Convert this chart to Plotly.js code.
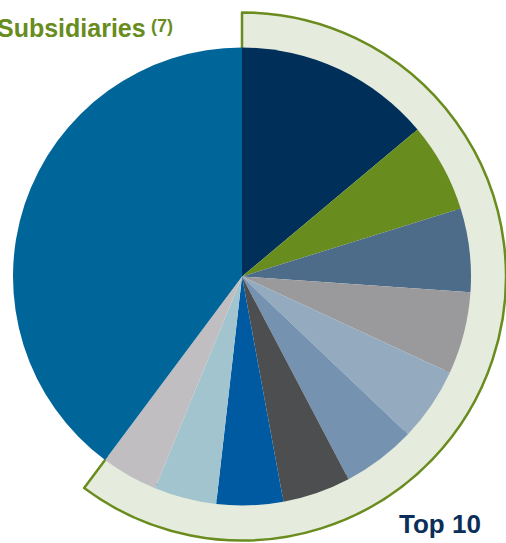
<!DOCTYPE html>
<html>
<head>
<meta charset="utf-8">
<script src="https://cdn.plot.ly/plotly-3.0.1.min.js"></script>
<style>
  html, body { margin: 0; padding: 0; width: 506px; height: 543px; overflow: hidden; background: #fff; }
  #chart { position: absolute; left: -80px; top: 0; width: 600px; height: 543px; }
</style>
</head>
<body>
<div id="chart"></div>
<script>
// Data (share of total, %), clockwise from 12 o'clock
const categories = ['Top 10 #1', 'Top 10 #2', 'Top 10 #3', 'Top 10 #4', 'Top 10 #5',
                    'Top 10 #6', 'Top 10 #7', 'Top 10 #8', 'Top 10 #9', 'Top 10 #10', 'Subsidiaries'];
const values = [13.9, 6.3, 5.9, 5.8, 5.2, 5.2, 4.8, 4.7, 4.4, 4.0, 39.8];
const sliceColors = ['#00305a', '#688c1e', '#4d6c89', '#9a9a9c', '#93aabf', '#7592b1',
                     '#4d4e50', '#005aa2', '#a2c4cf', '#c0bec0', '#006699'];
const groupLabels = ['Top 10', 'Subsidiaries'];
const subsLabel = 'Subsidiaries';
const subsNote = '(7)';
const topLabel = 'Top 10';

const W = 600, H = 543, OFF = 80;
const cx = 242 + OFF, cyTop = 276.5;
const rPie = 229, rRing = 264, rRingIn = 225;

const topSum = values.slice(0, 10).reduce((a, b) => a + b, 0);
const subSum = values[10];

function dom(r) {
  const cyB = H - cyTop;
  return { x: [(cx - r) / W, (cx + r) / W], y: [(cyB - r) / H, (cyB + r) / H] };
}

const ring = {
  type: 'pie',
  labels: groupLabels,
  values: [topSum, subSum],
  sort: false,
  direction: 'clockwise',
  rotation: 0,
  hole: rRingIn / rRing,
  domain: dom(rRing),
  textinfo: 'none',
  hoverinfo: 'skip',
  showlegend: false,
  marker: {
    colors: ['#e6ecdd', 'rgba(0,0,0,0)'],
    line: { color: ['#6a8c1e', 'rgba(0,0,0,0)'], width: [2.5, 0] }
  }
};

const pie = {
  type: 'pie',
  labels: categories,
  values: values,
  sort: false,
  direction: 'clockwise',
  rotation: 0,
  domain: dom(rPie),
  textinfo: 'none',
  hoverinfo: 'skip',
  showlegend: false,
  marker: { colors: sliceColors, line: { width: 0 } }
};

const FONT = 'Liberation Sans, Arial, sans-serif';
const layout = {
  width: W, height: H,
  margin: { l: 0, r: 0, t: 0, b: 0 },
  paper_bgcolor: '#ffffff',
  showlegend: false,
  annotations: [
    {
      text: '<b>' + subsLabel + '</b>', xref: 'paper', yref: 'paper',
      x: (148 + OFF) / W, y: 1 - 28 / H, xanchor: 'right', yanchor: 'middle',
      showarrow: false,
      font: { family: FONT, size: 25, color: '#688c1e' }
    },
    {
      text: '<b>' + subsNote + '</b>', xref: 'paper', yref: 'paper',
      x: (149 + OFF) / W, y: 1 - 26 / H, xanchor: 'left', yanchor: 'middle',
      showarrow: false,
      font: { family: FONT, size: 18, color: '#688c1e' }
    },
    {
      text: '<b>' + topLabel + '</b>', xref: 'paper', yref: 'paper',
      x: (440 + OFF) / W, y: 1 - 524 / H, xanchor: 'center', yanchor: 'middle',
      showarrow: false,
      font: { family: FONT, size: 26, color: '#0b2f58' }
    }
  ]
};

Plotly.newPlot('chart', [ring, pie], layout, { staticPlot: true, displayModeBar: false });
</script>
</body>
</html>
